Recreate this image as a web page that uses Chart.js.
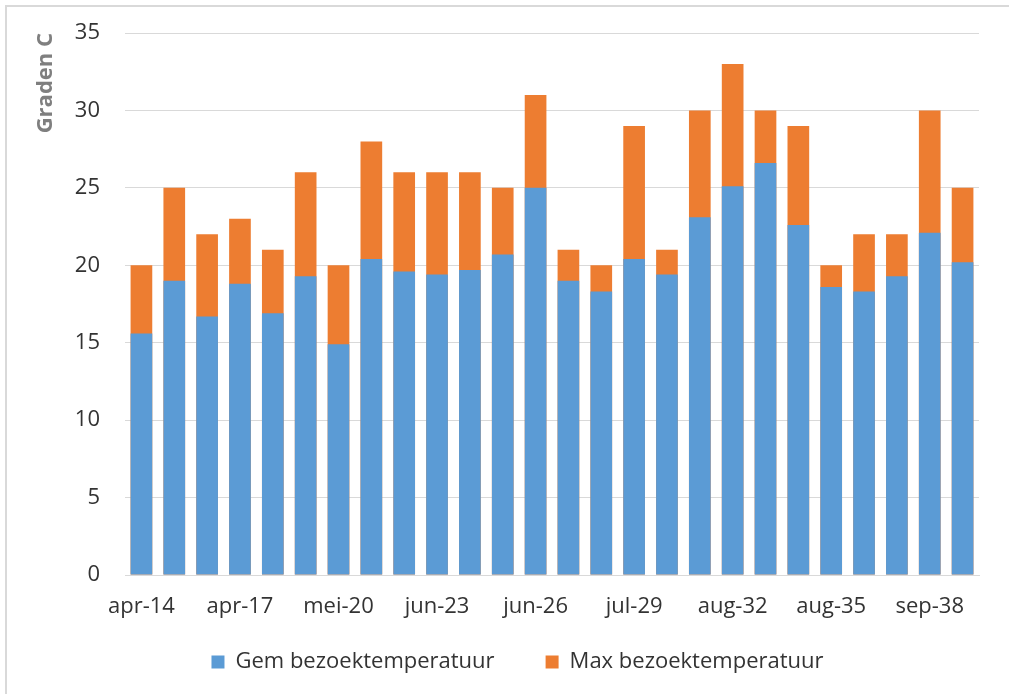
<!DOCTYPE html>
<html>
<head>
<meta charset="utf-8">
<script src="https://cdn.jsdelivr.net/npm/chart.js@4.4.0/dist/chart.umd.min.js"></script>
<style>
  body { margin: 0; background: #fff; }
  #wrap { position: relative; width: 1009px; height: 694px; overflow: hidden; }
  #frame { position: absolute; left: 5px; top: 5px; width: 1010px; height: 710px; border: 2px solid #d9d9d9; box-sizing: border-box; pointer-events: none; }
  canvas { position: absolute; left: 0; top: 0; }
</style>
</head>
<body>
<div id="wrap">
  <canvas id="chart" width="1009" height="694"></canvas>
  <div id="frame"></div>
</div>
<script>
// weeks (month-weeknr)
const weeks = ['apr-14', 'apr-15', 'apr-16', 'apr-17', 'mei-18', 'mei-19', 'mei-20', 'mei-21',
  'jun-22', 'jun-23', 'jun-24', 'jun-25', 'jun-26', 'jul-27', 'jul-28', 'jul-29', 'jul-30',
  'aug-31', 'aug-32', 'aug-33', 'aug-34', 'aug-35', 'sep-36', 'sep-37', 'sep-38', 'sep-39'];

const gemTemp = [15.6, 19.0, 16.7, 18.8, 16.9, 19.3, 14.9, 20.4, 19.6, 19.4, 19.7, 20.7, 25.0,
  19.0, 18.3, 20.4, 19.4, 23.1, 25.1, 26.6, 22.6, 18.6, 18.3, 19.3, 22.1, 20.2];
const maxTemp = [20, 25, 22, 23, 21, 26, 20, 28, 26, 26, 26, 25, 31,
  21, 20, 29, 21, 30, 33, 30, 29, 20, 22, 22, 30, 25];

const yTicks = [0, 5, 10, 15, 20, 25, 30, 35];

const fontFamily = "'Open Sans', sans-serif";
Chart.defaults.font.family = fontFamily;
Chart.defaults.color = '#333333';

// legend sits a bit right of centre; its box is stretched upwards so the
// wide item padding doesn't push it down
const legendNudge = {
    id: 'legendNudge',
    afterLayout(chart) {
        const lg = chart.legend;
        lg.left += 13; lg.right += 13;
        lg.top -= 41;
        lg.height = lg.bottom - lg.top;
    }
};

const ctx = document.getElementById('chart').getContext('2d');
new Chart(ctx, {
    type: 'bar',
    data: {
        labels: weeks,
        datasets: [
            {
                label: 'Gem bezoektemperatuur',
                data: gemTemp,
                backgroundColor: '#5b9bd5'
            },
            {
                label: 'Max bezoektemperatuur',
                data: maxTemp,
                backgroundColor: '#ed7d31'
            }
        ]
    },
    plugins: [legendNudge],
    options: {
        responsive: false,
        animation: false,
        grouped: false,
        categoryPercentage: 1,
        barPercentage: 0.66,
        layout: { padding: { left: 30, right: 30, top: 33, bottom: 10 } },
        scales: {
            x: {
                grid: { display: false, drawTicks: false },
                border: { display: true, color: '#d9d9d9', width: 1 },
                ticks: {
                    autoSkip: false,
                    maxRotation: 0,
                    padding: 19,
                    font: { size: 22 },
                    color: '#333333',
                    callback: function (val, i) { return i % 3 === 0 ? weeks[i] : ''; }
                },
                afterFit: s => { s.height = 66; }
            },
            y: {
                min: 0,
                max: 35,
                afterBuildTicks: s => { s.ticks = yTicks.map(v => ({ value: v })); },
                grid: { color: '#d9d9d9', drawTicks: true, tickLength: 21, tickColor: 'rgba(0,0,0,0)' },
                border: { display: false },
                ticks: { padding: 4, font: { size: 22 }, color: '#333333' },
                title: {
                    display: true,
                    text: 'Graden C',
                    align: 'end',
                    color: '#7f7f7f',
                    font: { size: 22, weight: 'bold' },
                    padding: { top: 3, bottom: 4 }
                },
                afterFit: s => { s.width = 95; }
            }
        },
        plugins: {
            legend: {
                position: 'bottom',
                maxHeight: 43,
                labels: {
                    boxWidth: 13,
                    boxHeight: 13,
                    padding: 51,
                    font: { size: 22 },
                    color: '#333333'
                }
            },
            tooltip: { enabled: false }
        }
    }
});
</script>
</body>
</html>
